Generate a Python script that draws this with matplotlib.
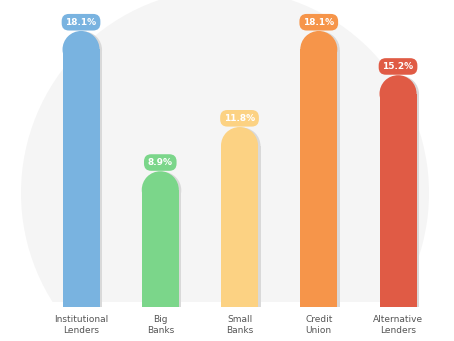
import matplotlib
matplotlib.use("Agg")
import matplotlib.pyplot as plt
import matplotlib.transforms as mtransforms
from matplotlib.patches import Ellipse, Rectangle

categories = ["Institutional\nLenders", "Big\nBanks", "Small\nBanks", "Credit\nUnion", "Alternative\nLenders"]
values = [18.1, 8.9, 11.8, 18.1, 15.2]
labels = ["18.1%", "8.9%", "11.8%", "18.1%", "15.2%"]
colors = ["#79b3e0", "#7bd68a", "#fcd283", "#f6954a", "#e05b45"]

W, H, DPI = 454, 341, 100
fig = plt.figure(figsize=(W / DPI, H / DPI), dpi=DPI)
fig.patch.set_facecolor("white")

# soft grey disc behind the bars, flat at the bottom
clip = Rectangle((0, (H - 302) / H), 1, 1, transform=fig.transFigure, visible=False)
fig.add_artist(clip)
disc = Ellipse((225 / W, (H - 193) / H), 2 * 204 / W, 2 * 204 / H,
               transform=fig.transFigure, facecolor="#f5f5f5", edgecolor="none", zorder=0)
fig.add_artist(disc)
disc.set_clip_path(clip)

# axes: x in category slots, y in percent
ax = fig.add_axes([41.4 / W, (H - 307) / H, 396.25 / W, 305 / H])
ax.set_xlim(-0.5, 4.5)
ax.set_ylim(0, 20)
ax.axis("off")
ax.patch.set_alpha(0)

bar_w = 0.467
fig.canvas.draw()
px_x = ax.transData.transform((1, 0))[0] - ax.transData.transform((0, 0))[0]
px_y = ax.transData.transform((0, 1))[1] - ax.transData.transform((0, 0))[1]
cap_h = bar_w * px_x / px_y  # cap height in y units so the top is a semicircle

shadow = ax.transData + mtransforms.ScaledTranslation(2.5 / DPI, -0.5 / DPI, fig.dpi_scale_trans)

for i, (v, c, lab) in enumerate(zip(values, colors, labels)):
    for col, tr, z in (("#d9d9d9", shadow, 2), (c, ax.transData, 3)):
        ax.add_patch(Rectangle((i - bar_w / 2, 0), bar_w, v - cap_h / 2,
                               facecolor=col, edgecolor="none", transform=tr, zorder=z))
        ax.add_patch(Ellipse((i, v - cap_h / 2), bar_w, cap_h,
                             facecolor=col, edgecolor="none", transform=tr, zorder=z))
    ax.annotate(lab, (i, v), xytext=(0, 6.3), textcoords="offset points",
                ha="center", va="center", color="white", fontsize=6.5, fontweight="bold",
                zorder=5,
                bbox=dict(boxstyle="round,pad=0.42,rounding_size=0.8", facecolor=c, edgecolor="none"))
    ax.annotate(categories[i], (i, 0), xytext=(0, -13), textcoords="offset points",
                ha="center", va="center", color="#555555", fontsize=6.5,
                linespacing=1.2, annotation_clip=False)

fig.savefig("out.png", dpi=DPI)
